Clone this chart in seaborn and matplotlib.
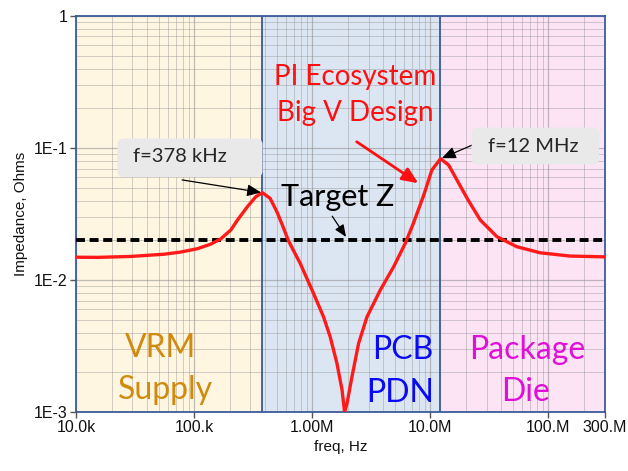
import matplotlib
matplotlib.use("Agg")
import matplotlib.pyplot as plt
import seaborn as sns
import pandas as pd
from matplotlib.patches import FancyBboxPatch
from matplotlib.ticker import FixedLocator, FixedFormatter, NullFormatter, LogLocator

# ---- data ----
freq_hz = [1e4, 1.52e4, 2.9e4, 5.57e4, 7.7e4, 1.07e5, 1.38e5, 1.68e5, 2.05e5, 2.33e5,
           2.83e5, 3.33e5, 3.79e5, 4.4e5, 5.02e5, 5.6e5, 6.27e5, 7.0e5, 7.91e5, 1.026e6,
           1.247e6, 1.42e6, 1.62e6, 1.79e6, 1.88e6, 1.97e6, 2.17e6, 2.47e6, 2.91e6, 3.77e6,
           4.89e6, 6.14e6, 7.2e6, 8.8e6, 1.03e7, 1.22e7, 1.43e7, 1.68e7, 2.05e7, 2.65e7,
           3.67e7, 5.4e7, 8.5e7, 1.53e8, 3e8]
impedance = [0.0149, 0.01486, 0.0151, 0.0157, 0.0163, 0.0173, 0.0187, 0.0205, 0.024, 0.0285,
             0.036, 0.0428, 0.0459, 0.0416, 0.033, 0.026, 0.020, 0.0165, 0.0134, 0.00793,
             0.00527, 0.00372, 0.00234, 0.00147, 0.0010, 0.00116, 0.00185, 0.00331, 0.00527, 0.0084,
             0.0126, 0.019, 0.027, 0.044, 0.068, 0.083, 0.0743, 0.0573, 0.0416, 0.0285,
             0.0213, 0.0179, 0.0161, 0.0152, 0.0150]
target_freq = [1e4, 3e8]
target_z = [0.02, 0.02]
region_edges = [1e4, 378e3, 12e6, 3e8]
region_colors = ["#FFF6E2", "#DCE6F3", "#FCE4F5"]
peak1 = (379e3, 0.0459)
peak2 = (12.2e6, 0.083)
xtick_vals = [1e4, 1e5, 1e6, 1e7, 1e8, 3e8]
xtick_labels = ["10.0k", "100.k", "1.00M", "10.0M", "100.M", "300.M"]
ytick_vals = [1e-3, 1e-2, 1e-1, 1]
ytick_labels = ["1E-3", "1E-2", "1E-1", "1"]

df = pd.DataFrame({"freq": freq_hz, "Z": impedance})
df_t = pd.DataFrame({"freq": target_freq, "Z": target_z})

sns.set_theme(style="white")
plt.rcParams["font.family"] = ["Liberation Sans", "DejaVu Sans"]

fig = plt.figure(figsize=(6.28, 4.71), dpi=100)
ax = fig.add_axes([0.121, 0.125, 0.842, 0.841])
ax.set_xscale("log")
ax.set_yscale("log")
ax.set_xlim(1e4, 3e8)
ax.set_ylim(1e-3, 1)

for i, c in enumerate(region_colors):
    ax.axvspan(region_edges[i], region_edges[i + 1], color=c, zorder=0, lw=0)
for e in region_edges[1:3]:
    ax.axvline(e, color="#34599A", lw=1.3, zorder=1)

ax.xaxis.set_minor_locator(LogLocator(base=10, subs=range(2, 10)))
ax.yaxis.set_minor_locator(LogLocator(base=10, subs=range(2, 10)))
ax.grid(which="major", color="#8C8C8C", alpha=0.55, lw=0.9, zorder=0.5)
ax.grid(which="minor", color="#8C8C8C", alpha=0.4, lw=0.7, zorder=0.5)
ax.set_axisbelow(True)

sns.lineplot(data=df_t, x="freq", y="Z", ax=ax, color="black", lw=2.8,
             linestyle=(0, (2.3, 1.2)), zorder=3)
sns.lineplot(data=df, x="freq", y="Z", ax=ax, color="#FF1A1A", lw=2.4, zorder=4,
             sort=False)

ax.xaxis.set_major_locator(FixedLocator(xtick_vals))
ax.xaxis.set_major_formatter(FixedFormatter(xtick_labels))
ax.xaxis.set_minor_formatter(NullFormatter())
ax.yaxis.set_major_locator(FixedLocator(ytick_vals))
ax.yaxis.set_major_formatter(FixedFormatter(ytick_labels))
ax.yaxis.set_minor_formatter(NullFormatter())
ax.tick_params(which="major", direction="out", length=4, width=1, color="#555555",
               labelsize=11.5, labelcolor="#111111", pad=2,
               bottom=True, left=True)
ax.tick_params(which="minor", length=0)
for s in ax.spines.values():
    s.set_color("#3A5C9C")
    s.set_linewidth(1.3)

ax.set_xlabel("freq, Hz", fontsize=11, labelpad=3, color="#111111")
ax.set_ylabel("Impedance, Ohms", fontsize=11, labelpad=4, color="#111111")

tf = ["Lato", "DejaVu Sans"]
# annotation boxes
for (bx, by, bw, bh) in [(0.193, 0.630, 0.219, 0.070), (0.757, 0.657, 0.191, 0.066)]:
    fig.patches.append(FancyBboxPatch((bx, by), bw, bh, boxstyle="round,pad=0.006,rounding_size=0.012",
                                      transform=fig.transFigure, fc="#E9E9E9", ec="none",
                                      zorder=5, figure=fig))
fig.text(0.287, 0.667, "f=378 kHz", fontsize=14.5, family=tf, ha="center", va="center", zorder=6)
fig.text(0.849, 0.688, "f=12 MHz", fontsize=14.5, family=tf, ha="center", va="center", zorder=6)
ax.annotate("", xy=peak1, xycoords="data", xytext=(0.290, 0.618), textcoords="figure fraction",
            arrowprops=dict(arrowstyle="-|>,head_length=0.7,head_width=0.3", color="black", lw=0.9,
                            shrinkA=0, shrinkB=1), zorder=7)
ax.annotate("", xy=peak2, xycoords="data", xytext=(0.752, 0.692), textcoords="figure fraction",
            arrowprops=dict(arrowstyle="-|>,head_length=0.7,head_width=0.3", color="black", lw=0.9,
                            shrinkA=0, shrinkB=1), zorder=7)

fig.text(0.565, 0.837, "PI Ecosystem", fontsize=20, family=tf, color="#FF1010", ha="center", va="center")
fig.text(0.565, 0.760, "Big V Design", fontsize=20, family=tf, color="#FF1010", ha="center", va="center")
ax.annotate("", xy=(0.666, 0.611), xycoords="figure fraction", xytext=(0.568, 0.699),
            textcoords="figure fraction",
            arrowprops=dict(arrowstyle="-|>,head_length=0.8,head_width=0.35", color="#FF1010", lw=2,
                            shrinkA=0, shrinkB=0), zorder=7)

fig.text(0.537, 0.582, "Target Z", fontsize=22, family=tf, color="black", ha="center", va="center")
ax.annotate("", xy=(0.551, 0.497), xycoords="figure fraction", xytext=(0.529, 0.541),
            textcoords="figure fraction",
            arrowprops=dict(arrowstyle="-|>,head_length=0.6,head_width=0.25", color="black", lw=0.9,
                            shrinkA=0, shrinkB=0), zorder=7)

big = 23
fig.text(0.255, 0.261, "VRM", fontsize=big, family=tf, color="#D08A0E", ha="center", va="center")
fig.text(0.264, 0.172, "Supply", fontsize=big, family=tf, color="#D08A0E", ha="center", va="center")
fig.text(0.642, 0.257, "PCB", fontsize=big, family=tf, color="#0A0AF5", ha="center", va="center")
fig.text(0.637, 0.166, "PDN", fontsize=big, family=tf, color="#0A0AF5", ha="center", va="center")
fig.text(0.839, 0.257, "Package", fontsize=big, family=tf, color="#E010D8", ha="center", va="center")
fig.text(0.836, 0.168, "Die", fontsize=big, family=tf, color="#E010D8", ha="center", va="center")

fig.savefig("out.png", dpi=100)
